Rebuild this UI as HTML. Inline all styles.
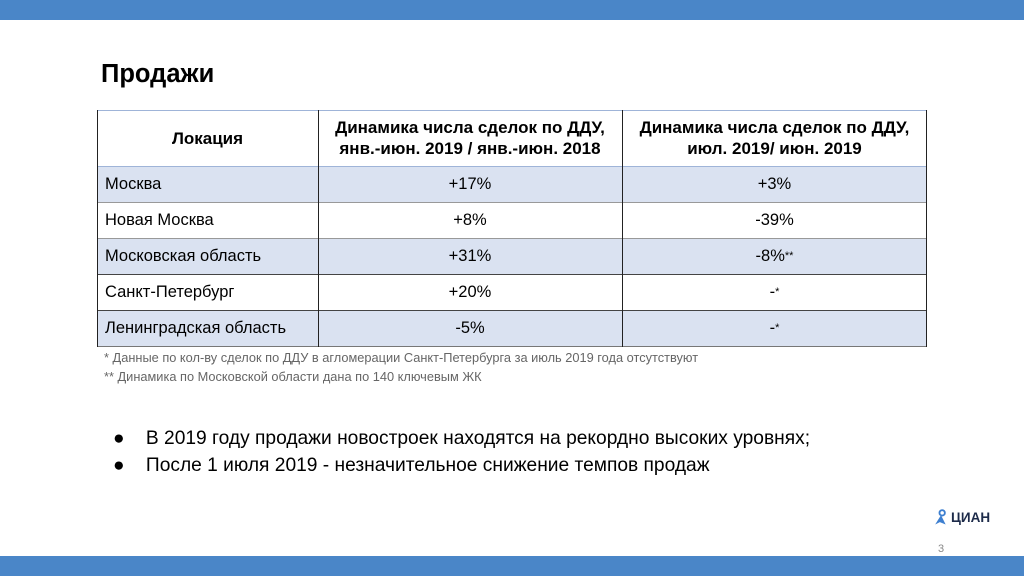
<!DOCTYPE html>
<html><head><meta charset="utf-8"><style>
body{margin:0;width:1024px;height:576px;position:relative;background:#fff;font-family:"Liberation Sans",sans-serif;overflow:hidden}
.bar{position:absolute;left:0;width:1024px;background:#4a86c8}
.c{position:absolute;box-sizing:border-box;display:flex;align-items:center;font-size:16.5px;color:#000}
.h{font-weight:bold;justify-content:center;text-align:center;line-height:21px;font-size:17px}
.v{justify-content:center}
.l{padding-left:8px}
.sh{background:#dae2f1}
.hl{position:absolute;height:1px;left:97px;width:830px;background:#444}
.vl{position:absolute;width:1px;top:110px;height:237px;background:#222}
.note{position:absolute;left:104px;font-size:12.8px;color:#666}
.bul{position:absolute;left:113px;font-size:19.2px;color:#000;white-space:nowrap}
</style></head><body>
<div class="bar" style="top:0;height:20px"></div>
<div class="bar" style="top:556px;height:20px"></div>
<div style="position:absolute;left:101px;top:60px;font-size:25.5px;font-weight:bold">Продажи</div>
<div>
<div class="c h" style="left:97px;top:110px;width:221px;height:56px">Локация</div>
<div class="c h" style="left:318px;top:110px;width:304px;height:56px">Динамика числа сделок по ДДУ,<br>янв.-июн. 2019 / янв.-июн. 2018</div>
<div class="c h" style="left:622px;top:110px;width:305px;height:56px">Динамика числа сделок по ДДУ,<br>июл. 2019/ июн. 2019</div>

<div class="c l sh" style="left:97px;top:166px;width:221px;height:36px">Москва</div>
<div class="c v sh" style="left:318px;top:166px;width:304px;height:36px">+17%</div>
<div class="c v sh" style="left:622px;top:166px;width:305px;height:36px">+3%</div>

<div class="c l" style="left:97px;top:202px;width:221px;height:36px">Новая Москва</div>
<div class="c v" style="left:318px;top:202px;width:304px;height:36px">+8%</div>
<div class="c v" style="left:622px;top:202px;width:305px;height:36px">-39%</div>

<div class="c l sh" style="left:97px;top:238px;width:221px;height:36px">Московская область</div>
<div class="c v sh" style="left:318px;top:238px;width:304px;height:36px">+31%</div>
<div class="c v sh" style="left:622px;top:238px;width:305px;height:36px">-8%<sup style="font-size:11px">**</sup></div>

<div class="c l" style="left:97px;top:274px;width:221px;height:36px">Санкт-Петербург</div>
<div class="c v" style="left:318px;top:274px;width:304px;height:36px">+20%</div>
<div class="c v" style="left:622px;top:274px;width:305px;height:36px">-<sup style="font-size:11px">*</sup></div>

<div class="c l sh" style="left:97px;top:310px;width:221px;height:36px">Ленинградская область</div>
<div class="c v sh" style="left:318px;top:310px;width:304px;height:36px">-5%</div>
<div class="c v sh" style="left:622px;top:310px;width:305px;height:36px">-<sup style="font-size:11px">*</sup></div>

<div class="hl" style="top:110px;background:#9fb4d8"></div>
<div class="hl" style="top:166px;background:#9fb4d8"></div>
<div class="hl" style="top:202px;background:#999"></div>
<div class="hl" style="top:238px;background:#999"></div>
<div class="hl" style="top:274px"></div>
<div class="hl" style="top:310px"></div>
<div class="hl" style="top:346px;background:#777"></div>
<div class="vl" style="left:97px"></div>
<div class="vl" style="left:318px"></div>
<div class="vl" style="left:622px"></div>
<div class="vl" style="left:926px"></div>
</div>
<div class="note" style="top:350px">* Данные по кол-ву сделок по ДДУ в агломерации Санкт-Петербурга за июль 2019 года отсутствуют</div>
<div class="note" style="top:369px">** Динамика по Московской области дана по 140 ключевым ЖК</div>
<div class="bul" style="top:428px">●&nbsp;&nbsp;&nbsp;&nbsp;В 2019 году продажи новостроек находятся на рекордно высоких уровнях;</div>
<div class="bul" style="top:455px">●&nbsp;&nbsp;&nbsp;&nbsp;После 1 июля 2019 - незначительное снижение темпов продаж</div>
<div style="position:absolute;left:934px;top:509px;display:flex;align-items:center">
<svg width="14" height="17" viewBox="0 0 12 14"><circle cx="7" cy="3" r="2.3" fill="none" stroke="#3d7fd0" stroke-width="1.6"/><path d="M6 5 L1 13 L5 11 L10 13 Z" fill="#3d7fd0"/></svg>
<span style="font-size:13.5px;font-weight:bold;color:#1d2b4a;margin-left:3px">ЦИАН</span></div>
<div style="position:absolute;left:938px;top:543px;font-size:11px;color:#888">3</div>
</body></html>
